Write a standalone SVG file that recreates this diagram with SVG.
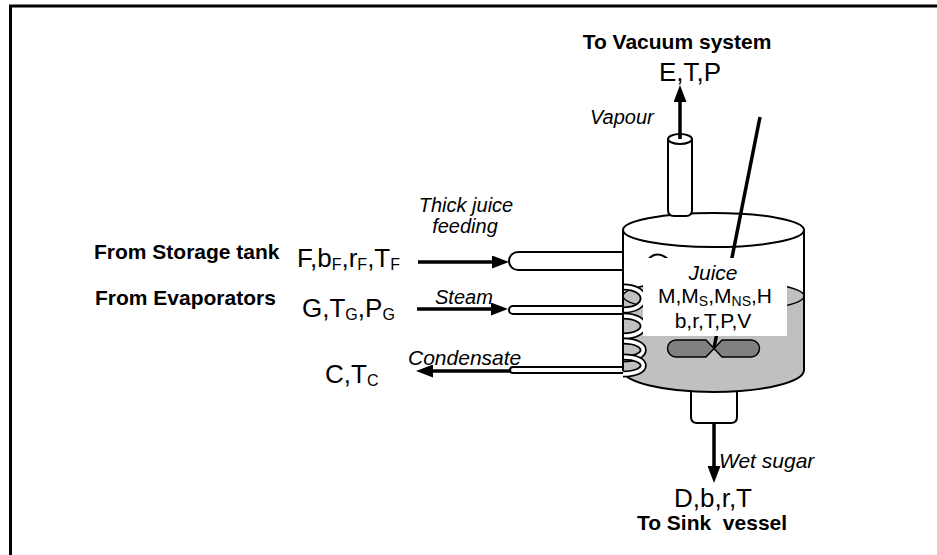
<svg xmlns="http://www.w3.org/2000/svg" width="937" height="555" viewBox="0 0 937 555">
<defs>
<style>
.t{font-family:"Liberation Sans",Arial,sans-serif;fill:#000}
.b{font-weight:bold;font-size:21px}
.i{font-style:italic;font-size:20px}
.v{font-size:26px}
.j{font-size:21px}
.ln{stroke:#000;stroke-width:2;fill:#fff}
.ar{stroke:#000;stroke-width:3.5;fill:none;marker-end:url(#ah)}
.coilb{stroke:#000;stroke-width:7;fill:none}
.coilw{stroke:#fff;stroke-width:3.5;fill:none}
</style>
<marker id="ah" markerUnits="userSpaceOnUse" markerWidth="17" markerHeight="13" refX="12" refY="6.5" orient="auto">
<path d="M0,0 L17,6.5 L0,13 z" fill="#000"/>
</marker>
</defs>
<rect width="937" height="555" fill="#fff"/>
<g id="frame" stroke="#000" stroke-width="3" fill="none">
<line x1="9" y1="6" x2="937" y2="6"/>
<line x1="10.5" y1="6" x2="10.5" y2="555"/>
</g>
<g id="vessel">
<path class="ln" d="M691,385 V417 Q691,423 697,423 H731 Q737,423 737,417 V385 Z"/>
<path d="M623,230 V370 A90.5,22 0 0 0 804,370 V230 Z" fill="#fff"/>
<path d="M623,296 A90.5,16 0 0 1 804,296 V370 A90.5,22 0 0 1 623,370 Z" fill="#c0c0c0"/>
<ellipse cx="713.5" cy="296" rx="90.5" ry="16" fill="none" stroke="#000" stroke-width="1.5"/>
<path d="M623,230 V370 A90.5,22 0 0 0 804,370 V230" fill="none" stroke="#000" stroke-width="2"/>
<ellipse cx="713.5" cy="230" rx="90.5" ry="17" fill="none" stroke="#000" stroke-width="2"/>
</g>
<g id="coil">
<path class="coilb" d="M623,287 C650,287 650,310 623,310"/>
<path class="coilw" d="M623,287 C650,287 650,310 623,310"/>
<path class="coilb" d="M623,316 C650,316 650,336 623,336"/>
<path class="coilw" d="M623,316 C650,316 650,336 623,336"/>
<path class="coilb" d="M623,341 C650,341 650,359 623,359"/>
<path class="coilw" d="M623,341 C650,341 650,359 623,359"/>
<path class="coilb" d="M623,357 C650,357 650,374 623,374"/>
<path class="coilw" d="M623,357 C650,357 650,374 623,374"/>
</g>
<g id="pipes">
<path class="ln" d="M623,252 H518 A9,9 0 0 0 518,270 H623"/>
<path class="ln" d="M623,306 H513 A4,4 0 0 0 513,314 H623"/>
<path class="ln" d="M623,367 H513 A3,3 0 0 0 513,373 H623"/>
<path d="M645,264 Q654,248 668,259" fill="none" stroke="#000" stroke-width="2"/>
<line x1="623" y1="230" x2="623" y2="371" stroke="#000" stroke-width="2"/>
<path class="ln" d="M668,139 V210 Q668,216 674,216 H686 Q692,216 692,210 V139"/>
<ellipse class="ln" cx="680" cy="139" rx="12" ry="5"/>
</g>
<g id="stirrer">
<line x1="760" y1="117" x2="714" y2="348" stroke="#000" stroke-width="3.5"/>
</g>
<g id="juice">
<rect x="643" y="258" width="144" height="78" fill="#fff"/>
<text class="t i" x="713" y="280" text-anchor="middle" style="font-size:21px">Juice</text>
<text class="t j" x="715" y="303" text-anchor="middle">M,M<tspan font-size="14" dy="3">S</tspan><tspan dy="-3">,M</tspan><tspan font-size="14" dy="3">NS</tspan><tspan dy="-3">,H</tspan></text>
<text class="t j" x="713" y="328" text-anchor="middle">b,r,T,P,V</text>
</g>
<g id="impeller" fill="#808080" stroke="#000" stroke-width="1.5">
<path d="M676,340 H706 L714,348.5 L706,357 H676 A8.5,8.5 0 0 1 676,340 Z"/>
<path d="M722,340 H751 A8.5,8.5 0 0 1 751,357 H722 L714,348.5 Z"/>
</g>
<g id="connectors">
<line class="ar" x1="680" y1="139" x2="680" y2="90"/>
<line class="ar" x1="714" y1="423" x2="714" y2="478"/>
<line class="ar" x1="418" y1="262" x2="504" y2="262"/>
<line class="ar" x1="417" y1="309" x2="503" y2="309"/>
<line class="ar" x1="510" y1="371" x2="421" y2="371"/>
</g>
<g id="labels">
<text class="t b" x="677" y="49" text-anchor="middle">To Vacuum system</text>
<text class="t v" x="690" y="81" text-anchor="middle">E,T,P</text>
<text class="t i" x="590" y="124">Vapour</text>
<text class="t i" x="466" y="212" text-anchor="middle">Thick juice</text>
<text class="t i" x="465" y="233" text-anchor="middle">feeding</text>
<text class="t b" x="94" y="259">From Storage tank</text>
<text class="t v" x="297" y="267">F,b<tspan font-size="16" dy="3">F</tspan><tspan dy="-3">,r</tspan><tspan font-size="16" dy="3">F</tspan><tspan dy="-3">,T</tspan><tspan font-size="16" dy="3">F</tspan></text>
<text class="t b" x="95" y="305">From Evaporators</text>
<text class="t v" x="302" y="317">G,T<tspan font-size="16" dy="3">G</tspan><tspan dy="-3">,P</tspan><tspan font-size="16" dy="3">G</tspan></text>
<text class="t i" x="435" y="304">Steam</text>
<text class="t i" x="408" y="365" style="font-size:21px">Condensate</text>
<text class="t v" x="325" y="383">C,T<tspan font-size="16" dy="3">C</tspan></text>
<text class="t i" x="719" y="468" style="font-size:21px">Wet sugar</text>
<text class="t v" x="713" y="507" text-anchor="middle">D,b,r,T</text>
<text class="t b" x="712" y="530" text-anchor="middle" xml:space="preserve">To Sink  vessel</text>
</g>
</svg>
